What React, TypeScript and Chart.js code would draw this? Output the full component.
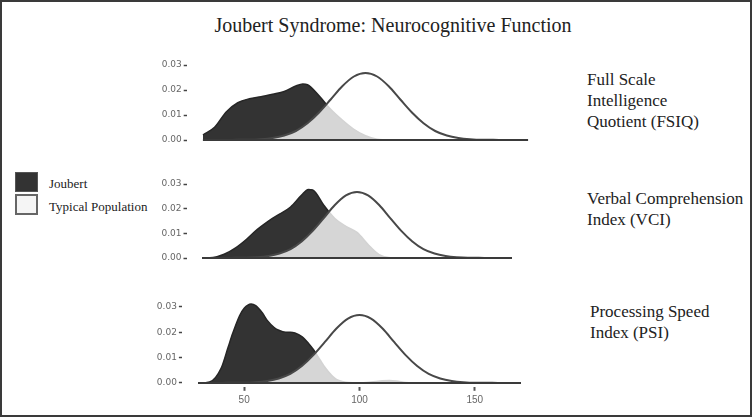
import React, { useEffect, useRef } from "react";
import { Chart, registerables } from "chart.js";
Chart.register(...registerables);

// ---- data ----
const xMin = 23;
const xMax = 177;
const yMin = -0.0015;
const yMax = 0.032;
const yTickValues = [0, 0.01, 0.02, 0.03];
const xTickValues = [50, 100, 150];
const baselineX = [30, 170];

const typicalX = [30, 35, 40, 45, 50, 55, 60, 65, 70, 75, 80, 85, 90, 95, 100, 105, 110, 115, 120, 125, 130, 135, 140, 145, 150, 155, 160, 165, 170];
const typicalY = [0, 0, 0, 0.0001, 0.0001, 0.0003, 0.0008, 0.0018, 0.0036, 0.0067, 0.011, 0.0162, 0.0215, 0.0254, 0.0268, 0.0254, 0.0215, 0.0162, 0.011, 0.0067, 0.0036, 0.0018, 0.0008, 0.0003, 0.0001, 0.0001, 0, 0, 0];

const fsiqJoubertX = [30, 35, 40, 45, 50, 55, 60, 65, 70, 73, 75, 80, 85, 90, 95, 100, 105, 110, 115];
const fsiqJoubertY = [0.002, 0.0051, 0.0112, 0.0149, 0.0165, 0.0173, 0.0183, 0.0194, 0.0216, 0.0224, 0.0221, 0.0177, 0.0123, 0.008, 0.0043, 0.0017, 0.0003, 0, 0];

const vciJoubertX = [30, 35, 40, 45, 50, 55, 60, 65, 70, 75, 78, 80, 85, 90, 95, 100, 105, 110, 115, 120];
const vciJoubertY = [0, 0.0002, 0.0015, 0.004, 0.0075, 0.0116, 0.015, 0.0178, 0.0207, 0.0255, 0.0278, 0.0276, 0.0214, 0.016, 0.0128, 0.0104, 0.0055, 0.0014, 0.0001, 0];

const psiJoubertX = [30, 35, 40, 43, 45, 48, 50, 53, 55, 58, 60, 63, 65, 68, 70, 72, 75, 78, 80, 83, 85, 88, 90, 93, 95, 100, 105, 110, 113, 116, 120, 125];
const psiJoubertY = [0, 0.0004, 0.0058, 0.014, 0.0195, 0.0265, 0.0295, 0.0312, 0.0305, 0.0275, 0.0247, 0.0219, 0.0208, 0.02, 0.02, 0.0197, 0.0183, 0.0155, 0.0132, 0.009, 0.0062, 0.0029, 0.0014, 0.0005, 0.0002, 0.0001, 0.0004, 0.0009, 0.001, 0.0008, 0.0002, 0];

const titleText = "Joubert Syndrome: Neurocognitive Function";
const legendLabels = ["Joubert", "Typical Population"];
const panelLabels = [
  ["Full Scale", "Intelligence", "Quotient (FSIQ)"],
  ["Verbal Comprehension", "Index (VCI)"],
  ["Processing Speed", "Index (PSI)"],
];

type Layout = { areaLeft: number; areaRight: number; areaTop: number; areaBottom: number };

const CANVAS_LEFT = 150;
const CANVAS_W = 410;
const Y_AXIS_W = 30;
const X_AXIS_H = 25;

function Panel({ jx, jy, layout, showX }: { jx: number[]; jy: number[]; layout: Layout; showX: boolean }) {
  const ref = useRef<HTMLCanvasElement>(null);
  const top = Math.floor(layout.areaTop - 10);
  const H = Math.ceil(layout.areaBottom + X_AXIS_H + 1 - top);
  useEffect(() => {
    const padTop = layout.areaTop - top;
    const padBottom = H - padTop - (layout.areaBottom - layout.areaTop) - X_AXIS_H;
    const chart = new Chart(ref.current as HTMLCanvasElement, {
      type: "line",
      data: {
        datasets: [
          {
            label: "baseline",
            data: baselineX.map((x) => ({ x, y: 0 })),
            borderColor: "#3a3a3a",
            borderWidth: 2,
            pointRadius: 0,
            fill: false,
            order: 0,
          },
          {
            label: legendLabels[1],
            data: typicalX.map((x, i) => ({ x, y: typicalY[i] })),
            borderColor: "#484848",
            borderWidth: 2,
            backgroundColor: "rgba(255,255,255,0.8)",
            fill: "origin",
            pointRadius: 0,
            cubicInterpolationMode: "monotone",
            order: 1,
          },
          {
            label: legendLabels[0],
            data: jx.map((x, i) => ({ x, y: jy[i] })),
            borderColor: "#262626",
            borderWidth: 1.5,
            backgroundColor: "#333333",
            fill: "origin",
            pointRadius: 0,
            cubicInterpolationMode: "monotone",
            order: 2,
          },
        ],
      },
      options: {
        responsive: false,
        animation: false,
        devicePixelRatio: 1,
        events: [],
        layout: {
          padding: {
            left: layout.areaLeft - CANVAS_LEFT - Y_AXIS_W,
            right: CANVAS_LEFT + CANVAS_W - layout.areaRight,
            top: padTop,
            bottom: padBottom,
          },
        },
        plugins: { legend: { display: false }, tooltip: { enabled: false }, title: { display: false } },
        scales: {
          x: {
            type: "linear",
            min: xMin,
            max: xMax,
            afterFit: (s: any) => {
              s.height = X_AXIS_H;
            },
            afterBuildTicks: (s: any) => {
              s.ticks = xTickValues.map((v) => ({ value: v }));
            },
            border: { display: false },
            grid: { display: showX, drawOnChartArea: false, drawTicks: true, tickLength: 4, tickColor: "#555", tickWidth: 2 },
            ticks: { display: showX, color: "#666", font: { family: "Liberation Sans", size: 10 }, padding: 3, maxRotation: 0 },
          },
          y: {
            type: "linear",
            min: yMin,
            max: yMax,
            afterFit: (s: any) => {
              s.width = Y_AXIS_W;
            },
            afterBuildTicks: (s: any) => {
              s.ticks = yTickValues.map((v) => ({ value: v }));
            },
            border: { display: false },
            grid: { drawOnChartArea: false, drawTicks: true, tickLength: 3, tickColor: "#444", tickWidth: 1.5 },
            ticks: {
              color: "#666",
              font: { family: "DejaVu Sans", size: 9 },
              padding: 2,
              callback: (v: any) => Number(v).toFixed(2),
            },
          },
        },
      },
    } as any);
    return () => chart.destroy();
  }, []);
  return (
    <canvas
      ref={ref}
      width={CANVAS_W}
      height={H}
      style={{ position: "absolute", left: CANVAS_LEFT, top, width: CANVAS_W, height: H }}
    />
  );
}

const serif = "'Liberation Serif', 'Times New Roman', serif";

export default function App() {
  const layouts: Layout[] = [
    { areaLeft: 186.7, areaRight: 544.3, areaTop: 60, areaBottom: 143.75 },
    { areaLeft: 186.5, areaRight: 527.5, areaTop: 179.1, areaBottom: 261.7 },
    { areaLeft: 181.9, areaRight: 537.1, areaTop: 301.9, areaBottom: 386.8 },
  ];
  const labelPos = [
    { left: 587, top: 68.8 },
    { left: 587, top: 188 },
    { left: 590, top: 300.5 },
  ];
  return (
    <div
      style={{
        position: "fixed",
        left: 0,
        top: 0,
        width: 752,
        height: 417,
        background: "#fff",
        overflow: "hidden",
        fontFamily: serif,
      }}
    >
      <div
        style={{
          position: "absolute",
          left: 0,
          top: 0,
          width: 752,
          height: 417,
          boxSizing: "border-box",
          border: "2px solid #3a3a3a",
        }}
      />
      <div
        style={{
          position: "absolute",
          left: 0,
          width: 786,
          top: 15.25,
          fontSize: 20,
          lineHeight: "20px",
          textAlign: "center",
          color: "#222",
          whiteSpace: "nowrap",
        }}
      >
        {titleText}
      </div>
      <Panel jx={fsiqJoubertX} jy={fsiqJoubertY} layout={layouts[0]} showX={false} />
      <Panel jx={vciJoubertX} jy={vciJoubertY} layout={layouts[1]} showX={false} />
      <Panel jx={psiJoubertX} jy={psiJoubertY} layout={layouts[2]} showX={true} />
      {/* legend */}
      <div
        style={{
          position: "absolute",
          left: 15,
          top: 172,
          width: 23,
          height: 20,
          boxSizing: "border-box",
          background: "#333",
          border: "1.5px solid #555",
        }}
      />
      <div
        style={{
          position: "absolute",
          left: 15,
          top: 194,
          width: 23,
          height: 21,
          boxSizing: "border-box",
          background: "#f5f5f5",
          border: "2px solid #666",
        }}
      />
      <div style={{ position: "absolute", left: 49, top: 175.9, fontSize: 13, lineHeight: "16px", color: "#222", whiteSpace: "nowrap" }}>
        {legendLabels[0]}
      </div>
      <div style={{ position: "absolute", left: 49, top: 199.3, fontSize: 13, lineHeight: "16px", color: "#222", whiteSpace: "nowrap" }}>
        {legendLabels[1]}
      </div>
      {panelLabels.map((lines, i) => (
        <div
          key={i}
          style={{
            position: "absolute",
            left: labelPos[i].left,
            top: labelPos[i].top,
            fontSize: 17,
            lineHeight: "21px",
            color: "#222",
            whiteSpace: "nowrap",
          }}
        >
          {lines.map((l, j) => (
            <div key={j}>{l}</div>
          ))}
        </div>
      ))}
    </div>
  );
}
